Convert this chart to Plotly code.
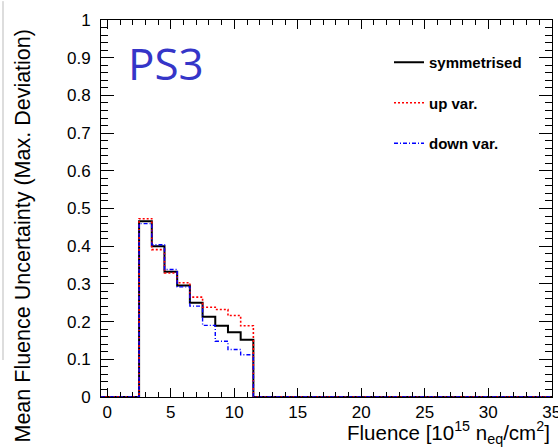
import plotly.graph_objects as go

# ---- data ----
fluence_bins = [3, 4, 5, 6, 7, 8, 9, 10, 11]          # bin centres [1e15 neq/cm2], width 1
symmetrised = [0.466, 0.400, 0.332, 0.296, 0.250, 0.213, 0.189, 0.172, 0.152]
up_var      = [0.473, 0.391, 0.329, 0.303, 0.265, 0.238, 0.232, 0.216, 0.189]
down_var    = [0.460, 0.404, 0.338, 0.292, 0.241, 0.190, 0.148, 0.126, 0.112]
bin_width = 1.0
x_range = [-0.5, 35.02]
x_ticks = [0, 5, 10, 15, 20, 25, 30, 35]
y_ticks = [0, 0.1, 0.2, 0.3, 0.4, 0.5, 0.6, 0.7, 0.8, 0.9, 1]
y_tick_labels = ["0", "0.1", "0.2", "0.3", "0.4", "0.5", "0.6", "0.7", "0.8", "0.9", "1"]


def step(vals):
    xs = [x_range[0]] + [c - bin_width / 2 for c in fluence_bins] + [fluence_bins[-1] + bin_width / 2, x_range[1]]
    ys = [0] + list(vals) + [0, 0]
    return xs, ys


W, H = 558, 448
L, R, T, B = 101, 6, 20, 51
pw, ph = W - L - R, H - T - B

fig = go.Figure()
series = [
    ("symmetrised", symmetrised, dict(color="black", width=2, dash="solid")),
    ("up var.", up_var, dict(color="#ff0000", width=1.6, dash="2px,2px")),
    ("down var.", down_var, dict(color="#0000ff", width=1.4, dash="4px,2px,1px,2px")),
]
for i, (name, vals, line) in enumerate(series):
    xs, ys = step(vals)
    fig.add_trace(go.Scatter(x=xs, y=ys, mode="lines", line_shape="hv", line=line,
                             name=name, legendgroup=f"g{i}"))

axis_font = dict(family="Liberation Sans, Arial, sans-serif", size=17, color="black")

fig.update_xaxes(range=x_range, tickvals=x_ticks, ticks="inside", ticklen=9, tickcolor="black",
                 showline=True, linecolor="black", linewidth=1, mirror="ticks",
                 showgrid=False, zeroline=False, tickfont=axis_font, ticklabeloverflow="allow",
                 automargin=False,
                 minor=dict(ticks="inside", ticklen=5, dtick=1, tick0=0, tickcolor="black", showgrid=False))
fig.update_yaxes(range=[0, 1], tickvals=y_ticks, ticktext=y_tick_labels, ticks="inside", ticklen=13,
                 tickcolor="black", showline=True, linecolor="black", linewidth=1, mirror="ticks",
                 showgrid=False, zeroline=False, tickfont=axis_font, ticklabelstandoff=6,
                 automargin=False,
                 minor=dict(ticks="inside", ticklen=7, dtick=0.02, tick0=0, tickcolor="black", showgrid=False))

fig.add_annotation(xref="paper", yref="paper", x=1.0, y=-(432 - (H - B)) / ph,
                   xanchor="right", yanchor="middle", showarrow=False,
                   text="Fluence [10<sup>15</sup> n<sub>eq</sub>/cm<sup>2</sup>]",
                   font=dict(family="Liberation Sans, Arial, sans-serif", size=20.5, color="black"))
fig.add_annotation(xref="paper", yref="paper", x=(22 - L) / pw, y=((H - B) - 28) / ph,
                   xanchor="center", yanchor="top", textangle=-90, showarrow=False,
                   text="Mean Fluence Uncertainty (Max. Deviation)",
                   font=dict(family="Liberation Sans, Arial, sans-serif", size=21.5, color="black"))
fig.add_annotation(xref="paper", yref="paper", x=(126 - L) / pw, y=((H - B) - 63) / ph,
                   xanchor="left", yanchor="middle", showarrow=False, text="PS3",
                   font=dict(family="Open Sans, sans-serif", size=44, color="#3535c8"))

# remnant of neighbouring panel on the far left
fig.add_shape(type="line", xref="paper", yref="paper", x0=(3 - L) / pw, x1=(3 - L) / pw,
              y0=((H - B) - 360) / ph, y1=1.05, line=dict(color="#bbbbbb", width=1))

fig.update_layout(
    width=W, height=H, margin=dict(l=L, r=R, t=T, b=B, autoexpand=False),
    paper_bgcolor="white", plot_bgcolor="white",
    showlegend=True,
    legend=dict(x=(389 - L) / pw, y=((H - B) - 46) / ph, xanchor="left", yanchor="top",
                bgcolor="rgba(0,0,0,0)", traceorder="grouped", tracegroupgap=18,
                font=dict(family="Liberation Sans, Arial, sans-serif", size=15, color="black",
                          weight="bold"),
                itemwidth=30),
)

fig.write_html("out.html")
